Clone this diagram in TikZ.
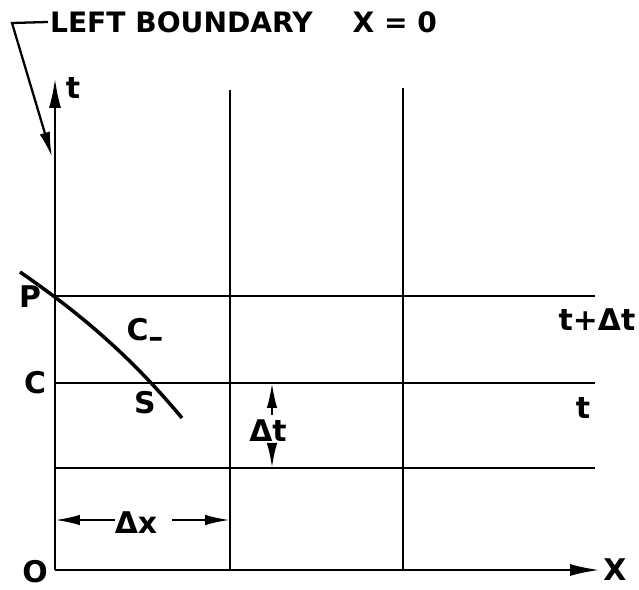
\documentclass[tikz,border=0pt]{standalone}
\usepackage{fontspec}
\setmainfont{DejaVu Sans}
\usetikzlibrary{arrows.meta}

\begin{document}
\begin{tikzpicture}[
  gridline/.style={line width=1.3pt},
  axis/.style={line width=1.5pt, -{Latex[length=6mm,width=2.4mm]}},
  dim/.style={line width=1.3pt, -{Latex[length=5mm,width=2.1mm]}},
  charline/.style={line width=2pt},
  lbl/.style={font=\fontsize{17}{19}\selectfont\bfseries, inner sep=1pt},
  title/.style={font=\fontsize{16}{18}\selectfont\bfseries, inner sep=1pt},
]
\useasboundingbox (-1.1,-0.4) rectangle (11.68,11.4);

% axes and mesh
\coordinate (o)    at (0,0);
\coordinate (tend) at (0,9.84);
\coordinate (xend) at (10.9,0);
\coordinate (v1b) at (3.5,0);   \coordinate (v1t) at (3.5,9.6);
\coordinate (v2b) at (6.96,0);  \coordinate (v2t) at (6.96,9.64);
\coordinate (h1l) at (0,2.04);  \coordinate (h1r) at (10.8,2.04);
\coordinate (h2l) at (0,3.74);  \coordinate (h2r) at (10.8,3.74);
\coordinate (h3l) at (0,5.48);  \coordinate (h3r) at (10.8,5.48);

\draw[axis] (o) -- (tend);
\draw[axis] (o) -- (xend);
\draw[gridline] (v1b) -- (v1t);
\draw[gridline] (v2b) -- (v2t);
\draw[gridline] (h1l) -- (h1r);
\draw[gridline] (h2l) -- (h2r);
\draw[gridline] (h3l) -- (h3r);

% characteristic C-
\coordinate (cs) at (-0.7,5.96);
\coordinate (ce) at (2.54,3.04);
\draw[charline] (cs) .. controls (0.4,5.2) and (1.44,4.36) .. (ce);

% labels
\node[lbl] (lo)   at (-0.4,-0.04) {O};
\node[lbl] (lp)   at (-0.5,5.46)  {P};
\node[lbl] (lc)   at (-0.4,3.74)  {C};
\node[lbl] (lt)   at (0.36,9.64)  {t};
\node[lbl] (lx)   at (11.2,0)     {X};
\node[lbl] (ltdt) at (10.84,5.0)  {t+Δt};
\node[lbl] (lt0)  at (10.56,3.24) {t};
\node[lbl] (lcm)  at (1.8,4.74)   {C\raisebox{-0.45ex}{–}};
\node[lbl] (ls)   at (1.8,3.34)   {S};
\node[lbl] (ldt)  at (4.26,2.78)  {Δt};
\node[lbl] (ldx)  at (1.62,0.94)  {Δx};
\node[title, anchor=west] (lbound) at (-0.14,10.96)
  {LEFT BOUNDARY\hspace{0.8cm}X = 0};

% dimension arrows
\coordinate (dtu) at (4.34,3.1);  \coordinate (dtut) at (4.34,3.74);
\coordinate (dtd) at (4.34,2.54); \coordinate (dtdt) at (4.34,2.04);
\draw[dim] (dtu) -- (dtut);
\draw[dim] (dtd) -- (dtdt);
\coordinate (dxl) at (1.2,1.0);   \coordinate (dxlt) at (0,1.0);
\coordinate (dxr) at (2.34,1.0);  \coordinate (dxrt) at (3.5,1.0);
\draw[dim] (dxl) -- (dxlt);
\draw[dim] (dxr) -- (dxrt);

% leader to the boundary
\coordinate (lbk)  at (-0.86,10.94);
\coordinate (ltip) at (-0.06,8.26);
\draw[dim] (lbound.west) -- (lbk) -- (ltip);

\end{tikzpicture}
\end{document}
